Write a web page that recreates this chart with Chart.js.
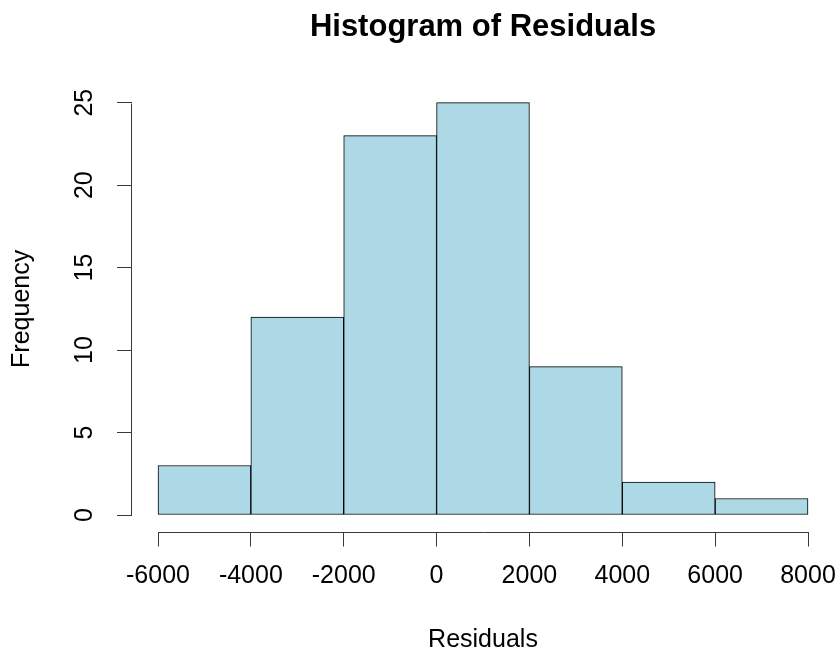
<!DOCTYPE html>
<html>
<head>
<meta charset="utf-8">
<script src="https://cdn.jsdelivr.net/npm/chart.js@4/dist/chart.umd.min.js"></script>
<style>
  html, body { margin: 0; padding: 0; background: #ffffff; }
  #wrap { width: 839px; height: 657px; }
</style>
</head>
<body>
<div id="wrap"><canvas id="c" width="839" height="657"></canvas></div>
<script>
// ---- data ----
const binMids = [-5000, -3000, -1000, 1000, 3000, 5000, 7000];
const counts = [3, 12, 23, 25, 9, 2, 1];
const xTicks = [-6000, -4000, -2000, 0, 2000, 4000, 6000, 8000];
const yTicks = [0, 5, 10, 15, 20, 25];
const chartTitle = 'Histogram of Residuals';
const xTitle = 'Residuals';
const yTitle = 'Frequency';

const FONT = '"Liberation Sans", Arial, Helvetica, sans-serif';
const AXIS_COLOR = '#3a3a3a';

const points = binMids.map((m, i) => ({ x: m, y: counts[i] }));

// R-style axes: axis line only spans first..last tick
const rAxisLines = {
  id: 'rAxisLines',
  afterDraw(chart) {
    const { ctx, chartArea, scales } = chart;
    const xs = scales.x, ys = scales.y;
    ctx.save();
    ctx.strokeStyle = AXIS_COLOR;
    ctx.lineWidth = 1;
    ctx.beginPath();
    const yLine = Math.round(chartArea.bottom) + 0.5;
    ctx.moveTo(Math.round(xs.getPixelForValue(xTicks[0])) + 0.5, yLine);
    ctx.lineTo(Math.round(xs.getPixelForValue(xTicks[xTicks.length - 1])) + 0.5, yLine);
    const xLine = Math.round(chartArea.left) - 0.5;
    ctx.moveTo(xLine, Math.round(ys.getPixelForValue(yTicks[0])) + 0.5);
    ctx.lineTo(xLine, Math.round(ys.getPixelForValue(yTicks[yTicks.length - 1])) + 0.5);
    ctx.stroke();
    ctx.restore();
  }
};

new Chart(document.getElementById('c'), {
  type: 'bar',
  data: {
    datasets: [{
      data: points,
      backgroundColor: '#ADD8E6',
      borderColor: '#000000',
      borderWidth: 1,
      borderSkipped: false,
      barPercentage: 1.0,
      categoryPercentage: 1.0
    }]
  },
  options: {
    responsive: false,
    devicePixelRatio: 1,
    animation: false,
    layout: { padding: { left: 0, right: 5, top: 0, bottom: 0 } },
    plugins: {
      legend: { display: false },
      tooltip: { enabled: false },
      title: {
        display: true,
        text: chartTitle,
        fullSize: false,
        color: '#000000',
        font: { family: FONT, size: 31, weight: 'bold', lineHeight: 1.2 },
        padding: { top: 9, bottom: 40 }
      }
    },
    scales: {
      x: {
        type: 'linear',
        min: -6560,
        max: 8560,
        offset: false,
        afterBuildTicks: (s) => { s.ticks = xTicks.map(v => ({ value: v })); },
        afterFit: (s) => { s.height = 125.5; s.paddingLeft = 0; s.paddingRight = 0; },
        grid: { offset: false, drawOnChartArea: false, drawTicks: true, tickLength: 15, tickColor: AXIS_COLOR, color: AXIS_COLOR },
        border: { display: false },
        ticks: {
          autoSkip: false,
          maxRotation: 0, minRotation: 0,
          padding: 15,
          color: '#000000',
          font: { family: FONT, size: 25, lineHeight: 1.2 },
          callback: (v) => String(v)
        },
        title: {
          display: true,
          text: xTitle,
          color: '#000000',
          font: { family: FONT, size: 25, lineHeight: 1.2 },
          padding: { top: 0, bottom: 2 }
        }
      },
      y: {
        type: 'linear',
        min: -1,
        max: 26,
        afterBuildTicks: (s) => { s.ticks = yTicks.map(v => ({ value: v })); },
        afterFit: (s) => { s.width = 132; s.paddingTop = 0; s.paddingBottom = 0; },
        grid: { offset: false, drawOnChartArea: false, drawTicks: true, tickLength: 15, tickColor: AXIS_COLOR, color: AXIS_COLOR },
        border: { display: false },
        ticks: {
          autoSkip: false,
          minRotation: 90, maxRotation: 90,
          crossAlign: 'center',
          padding: 18,
          color: '#000000',
          font: { family: FONT, size: 25, lineHeight: 1.2 },
          callback: (v) => String(v)
        },
        title: {
          display: true,
          text: yTitle,
          color: '#000000',
          font: { family: FONT, size: 25, lineHeight: 1.2 },
          padding: { top: 7, bottom: 0 }
        }
      }
    }
  },
  plugins: [rAxisLines]
});
</script>
</body>
</html>
